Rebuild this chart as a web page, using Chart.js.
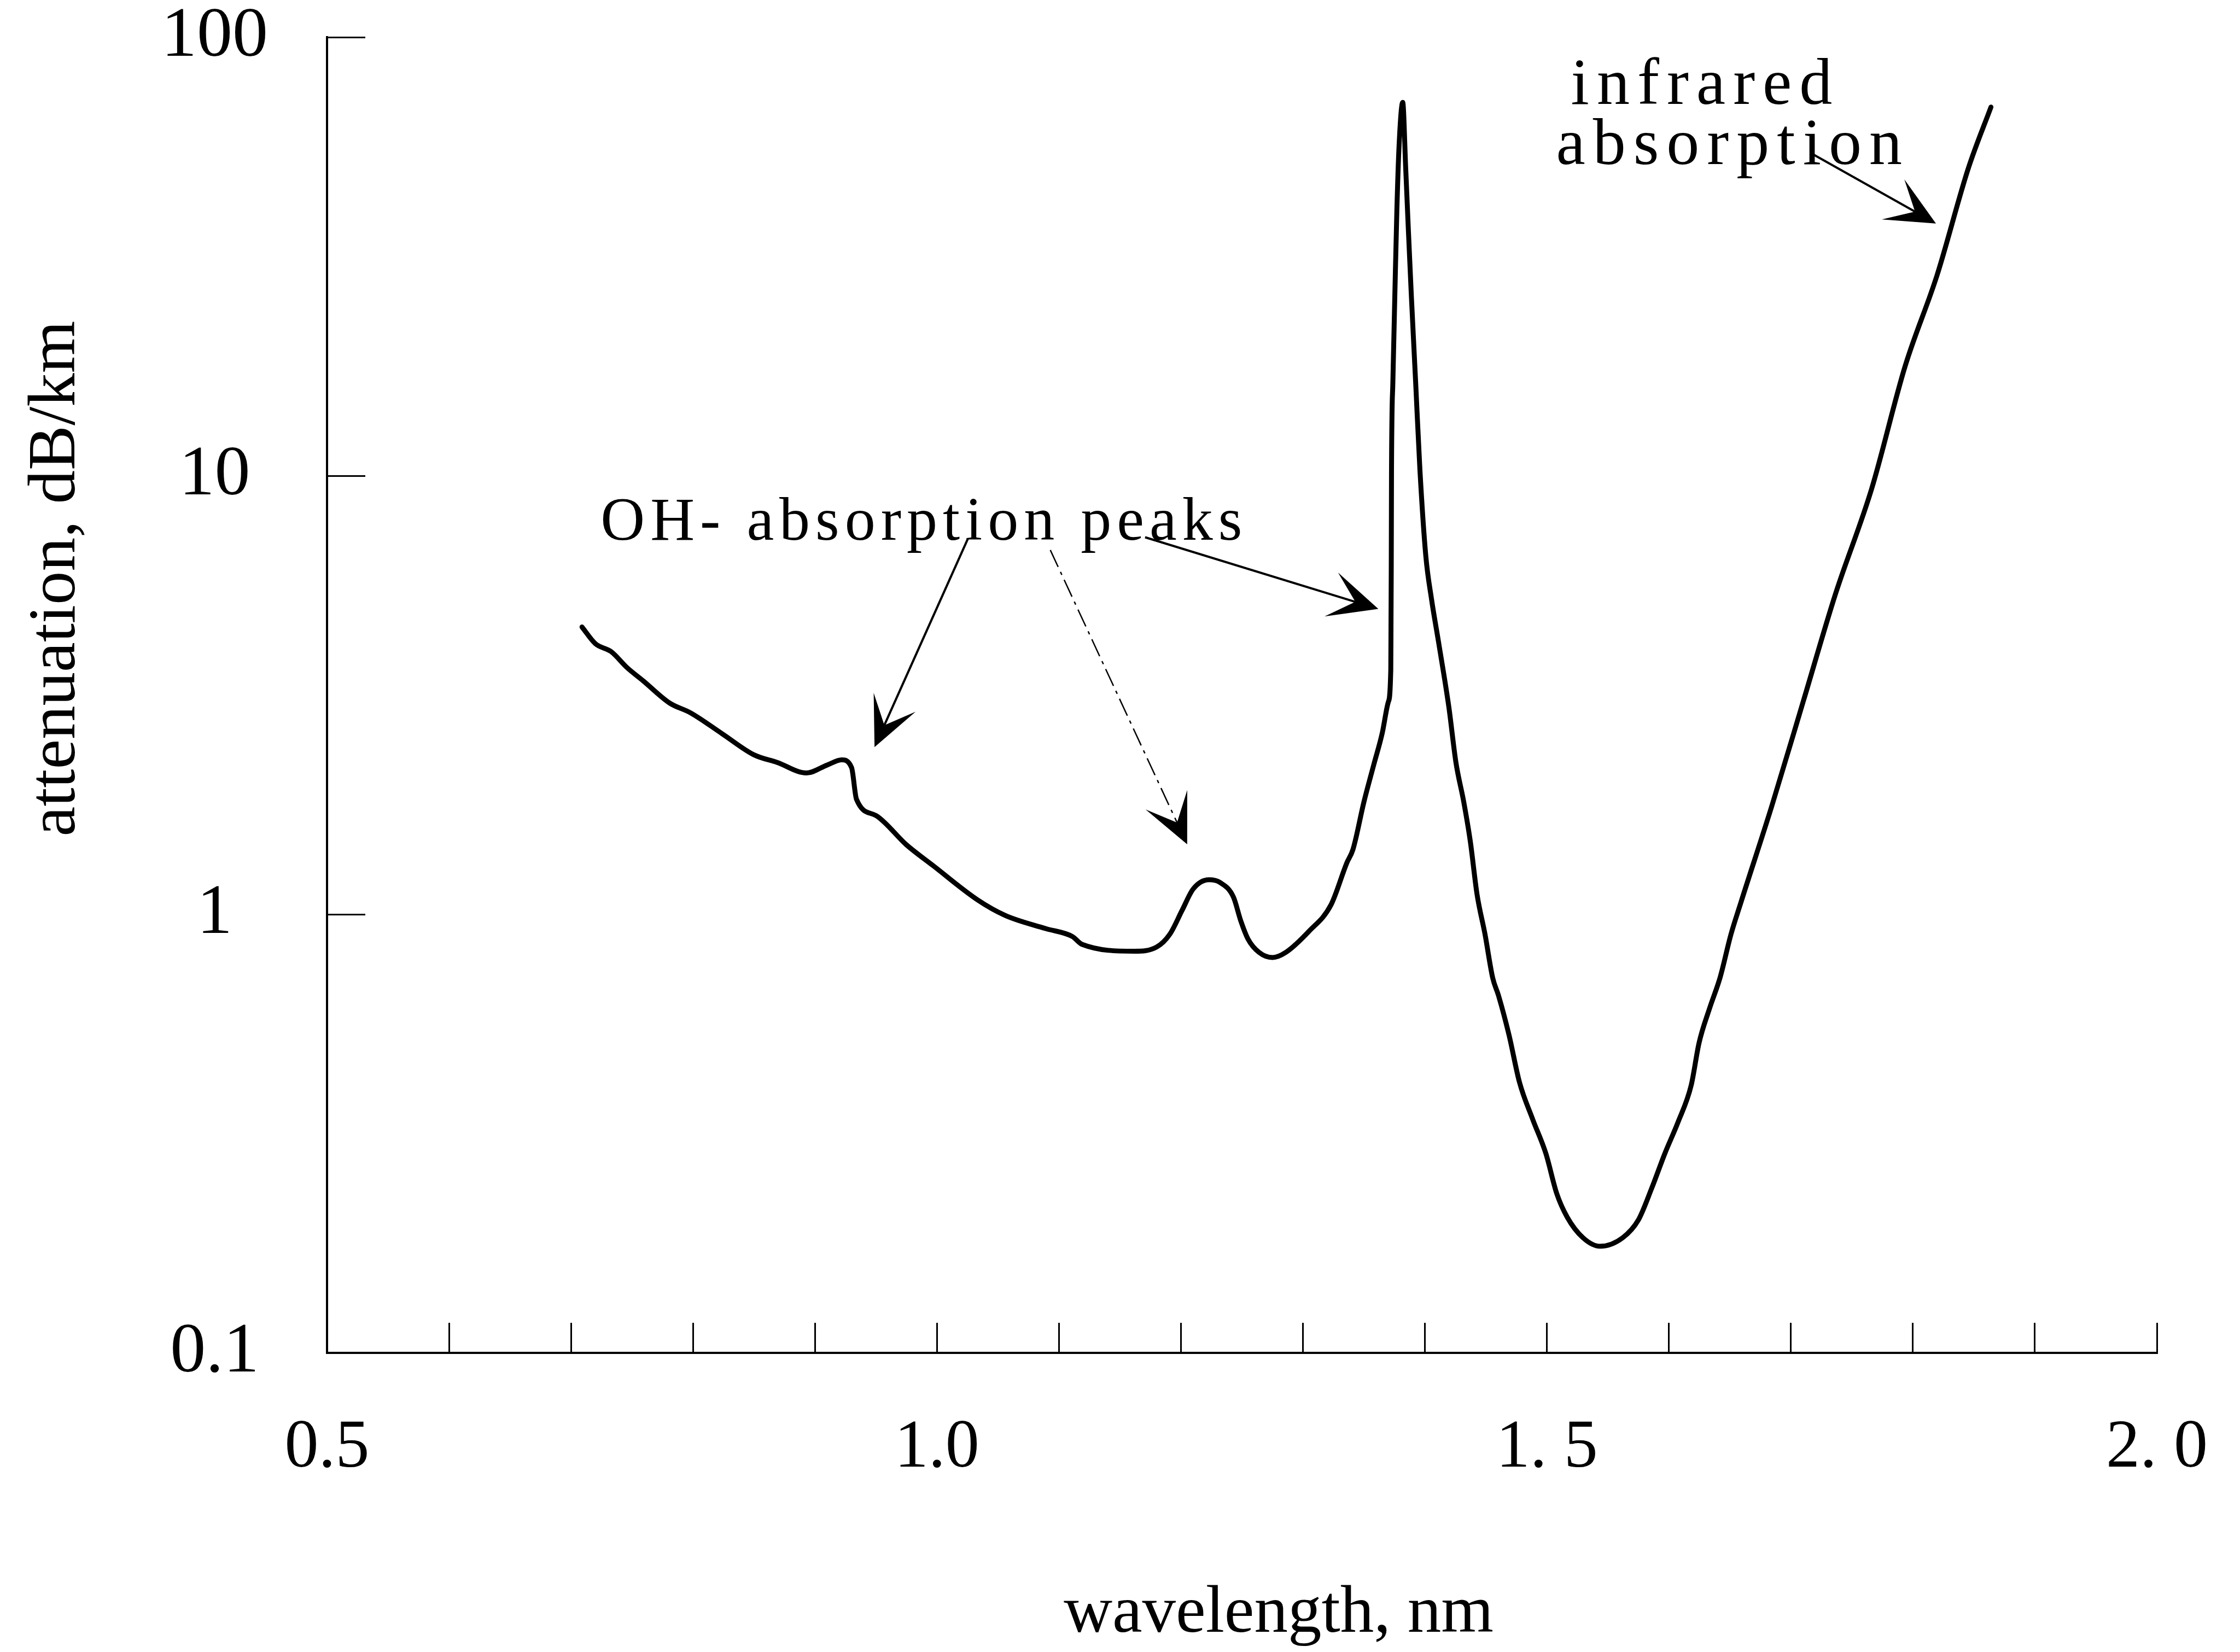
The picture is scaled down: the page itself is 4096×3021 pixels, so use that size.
<!DOCTYPE html>
<html>
<head>
<meta charset="utf-8">
<title>attenuation vs wavelength</title>
<script src="https://cdn.jsdelivr.net/npm/chart.js@4.4.1/dist/chart.umd.min.js"></script>
<style>
  html, body { margin: 0; padding: 0; background: #ffffff; }
  #wrap { width: 4096px; height: 3021px; }
</style>
</head>
<body>
<div id="wrap"><canvas id="plot" width="4096" height="3021"></canvas></div>
<script>
// curve: wavelength (x) and attenuation in dB/km (y)
const wavelength = [
  0.709, 0.720, 0.733, 0.746, 0.759, 0.781, 0.798, 0.824, 0.850, 0.869,
  0.893, 0.910, 0.922, 0.930, 0.934, 0.950, 0.975, 0.997, 1.033, 1.056,
  1.089, 1.111, 1.119, 1.162, 1.180, 1.191, 1.201, 1.210, 1.223, 1.232,
  1.243, 1.249, 1.255, 1.264, 1.275, 1.286, 1.305, 1.323, 1.336, 1.341,
  1.350, 1.358, 1.365, 1.370, 1.3720, 1.3722, 1.3724, 1.3726, 1.3737, 1.3753,
  1.3770, 1.3788, 1.3818, 1.3842, 1.3865, 1.3889, 1.3924, 1.3959, 1.4007, 1.4054,
  1.4112, 1.4196, 1.4254, 1.4318, 1.4372, 1.4427, 1.4492, 1.4556, 1.4603, 1.4689,
  1.4775, 1.4883, 1.4991, 1.5080, 1.5166, 1.5296, 1.5436, 1.5621, 1.5750, 1.5858,
  1.5967, 1.6075, 1.6183, 1.6247, 1.6333, 1.6421, 1.6508, 1.6589, 1.6844, 1.7103,
  1.7363, 1.7661, 1.7937, 1.8197, 1.8456, 1.8640
];
const attenuation = [
  4.52, 4.14, 3.97, 3.65, 3.41, 3.03, 2.88, 2.58, 2.31, 2.22,
  2.10, 2.19, 2.25, 2.16, 1.83, 1.68, 1.44, 1.29, 1.08, 0.994,
  0.928, 0.890, 0.854, 0.824, 0.842, 0.902, 1.022, 1.142, 1.199, 1.182,
  1.095, 0.967, 0.878, 0.819, 0.797, 0.819, 0.915, 1.051, 1.311, 1.406,
  1.805, 2.19, 2.59, 3.05, 3.61, 4.76, 6.28, 10.3, 16.3, 25.6,
  40.4, 56.6, 71.0, 50.5, 35.9, 25.6, 16.3, 10.3, 6.57, 5.23,
  4.17, 2.97, 2.22, 1.805, 1.466, 1.111, 0.902, 0.715, 0.653, 0.531,
  0.414, 0.341, 0.285, 0.231, 0.204, 0.183, 0.175, 0.183, 0.201, 0.237,
  0.285, 0.336, 0.408, 0.509, 0.610, 0.720, 0.899, 1.062, 1.768, 3.07,
  5.35, 9.32, 17.8, 28.6, 50.4, 69.3
];

const xTickValues = [0.5, 0.6, 0.7, 0.8, 0.9, 1.0, 1.1, 1.2, 1.3, 1.4, 1.5, 1.6, 1.7, 1.8, 1.9, 2.0];
const xTickLabels = ['0.5', '', '', '', '', '1.0', '', '', '', '', '1. 5', '', '', '', '', '2. 0'];
const yTickValues = [0.1, 1, 10, 100];
const yTickLabels = ['0.1', '1', '10', '100'];

// annotation labels, anchored (left, baseline) in data units
const noteTexts = ['OH- absorption peaks', 'infrared', 'absorption'];
const noteX = [0.7243, 1.5197, 1.5075];
const noteY = [7.14, 70.5, 51.3];

// arrows, tail -> tip, in data units
const arrowTailX = [1.0254, 1.0929, 1.1706, 1.7170];
const arrowTailY = [7.19, 6.77, 7.24, 54.3];
const arrowTipX = [0.9488, 1.2051, 1.3618, 1.8189];
const arrowTipY = [2.405, 1.444, 4.97, 37.6];
const arrowDashed = [false, true, false, false];

const SERIF = '"Liberation Serif", "Times New Roman", serif';

function drawArrow(ctx, x0, y0, x1, y1, dashed) {
  const dx = x1 - x0;
  const dy = y1 - y0;
  const len = Math.hypot(dx, dy);
  const ux = dx / len, uy = dy / len;
  const px = -uy, py = ux;
  const headLen = 90, halfW = 42, notch = 44;

  ctx.save();
  ctx.lineWidth = dashed ? 2.5 : 4;
  if (dashed) ctx.setLineDash([34, 10, 6, 10]);
  ctx.beginPath();
  ctx.moveTo(x0, y0);
  ctx.lineTo(x1 - ux * notch, y1 - uy * notch);
  ctx.stroke();
  ctx.setLineDash([]);

  // barbed head
  ctx.beginPath();
  ctx.moveTo(x1, y1);
  ctx.lineTo(x1 - ux * headLen + px * halfW, y1 - uy * headLen + py * halfW);
  ctx.lineTo(x1 - ux * notch, y1 - uy * notch);
  ctx.lineTo(x1 - ux * headLen - px * halfW, y1 - uy * headLen - py * halfW);
  ctx.closePath();
  ctx.fill();
  ctx.restore();
}

const notesPlugin = {
  id: 'notes',
  afterDraw(chart) {
    const ctx = chart.ctx;
    const xs = chart.scales.x;
    const ys = chart.scales.y;
    const area = chart.chartArea;

    ctx.save();
    ctx.fillStyle = '#000';
    ctx.strokeStyle = '#000';

    // annotation text
    ctx.textAlign = 'left';
    ctx.textBaseline = 'alphabetic';
    noteTexts.forEach((t, i) => {
      const big = i === 0;
      ctx.font = (big ? 112 : 120) + 'px ' + SERIF;
      ctx.letterSpacing = big ? '10px' : '14px';
      ctx.fillText(t, xs.getPixelForValue(noteX[i]), ys.getPixelForValue(noteY[i]));
    });
    ctx.letterSpacing = '0px';

    for (let i = 0; i < arrowTipX.length; i++) {
      drawArrow(ctx,
        xs.getPixelForValue(arrowTailX[i]), ys.getPixelForValue(arrowTailY[i]),
        xs.getPixelForValue(arrowTipX[i]), ys.getPixelForValue(arrowTipY[i]),
        arrowDashed[i]);
    }

    // axis titles
    ctx.font = '123px ' + SERIF;
    ctx.textAlign = 'center';
    ctx.textBaseline = 'middle';
    ctx.fillText('wavelength, nm', area.left + 1740, area.bottom + 478);

    ctx.translate(area.left - 494, area.top + 990);
    ctx.rotate(-Math.PI / 2);
    ctx.fillText('attenuation, dB/km', 0, 0);
    ctx.restore();
  }
};

const points = wavelength.map((w, i) => ({ x: w, y: attenuation[i] }));

new Chart(document.getElementById('plot'), {
  type: 'line',
  data: {
    datasets: [{
      data: points,
      borderColor: '#000',
      borderWidth: 9,
      borderJoinStyle: 'round',
      borderCapStyle: 'round',
      pointRadius: 0,
      cubicInterpolationMode: 'monotone',
      fill: false
    }]
  },
  options: {
    responsive: false,
    devicePixelRatio: 1,
    animation: false,
    events: [],
    layout: { padding: { top: 68, right: 152, left: 0, bottom: 0 } },
    plugins: {
      legend: { display: false },
      tooltip: { enabled: false }
    },
    scales: {
      x: {
        type: 'linear',
        min: 0.5,
        max: 2.0,
        afterBuildTicks: scale => { scale.ticks = xTickValues.map(v => ({ value: v })); },
        afterFit: scale => {
          scale.height = 547;
          // keep the big label padding from pushing the plot area in
          scale.paddingLeft = 0;
          scale.paddingRight = 0;
        },
        grid: {
          drawOnChartArea: false,
          drawTicks: true,
          tickLength: -55,
          tickWidth: 3,
          tickColor: '#000'
        },
        border: { display: true, color: '#000', width: 4 },
        ticks: {
          autoSkip: false,
          maxRotation: 0,
          padding: 168,
          color: '#000',
          font: { family: SERIF, size: 124, lineHeight: 1 },
          callback: (v, i) => xTickLabels[i]
        }
      },
      y: {
        type: 'logarithmic',
        min: 0.1,
        max: 100,
        afterBuildTicks: scale => { scale.ticks = yTickValues.map(v => ({ value: v })); },
        afterFit: scale => {
          scale.width = 598;
          scale.paddingTop = 0;
          scale.paddingBottom = 0;
        },
        grid: {
          drawOnChartArea: false,
          drawTicks: true,
          tickLength: -70,
          tickWidth: 3,
          tickColor: '#000'
        },
        border: { display: true, color: '#000', width: 4 },
        ticks: {
          crossAlign: 'center',
          padding: 178,
          color: '#000',
          font: { family: SERIF, size: 130, lineHeight: 1 },
          callback: (v, i) => yTickLabels[i]
        }
      }
    }
  },
  plugins: [notesPlugin]
});
</script>
</body>
</html>
